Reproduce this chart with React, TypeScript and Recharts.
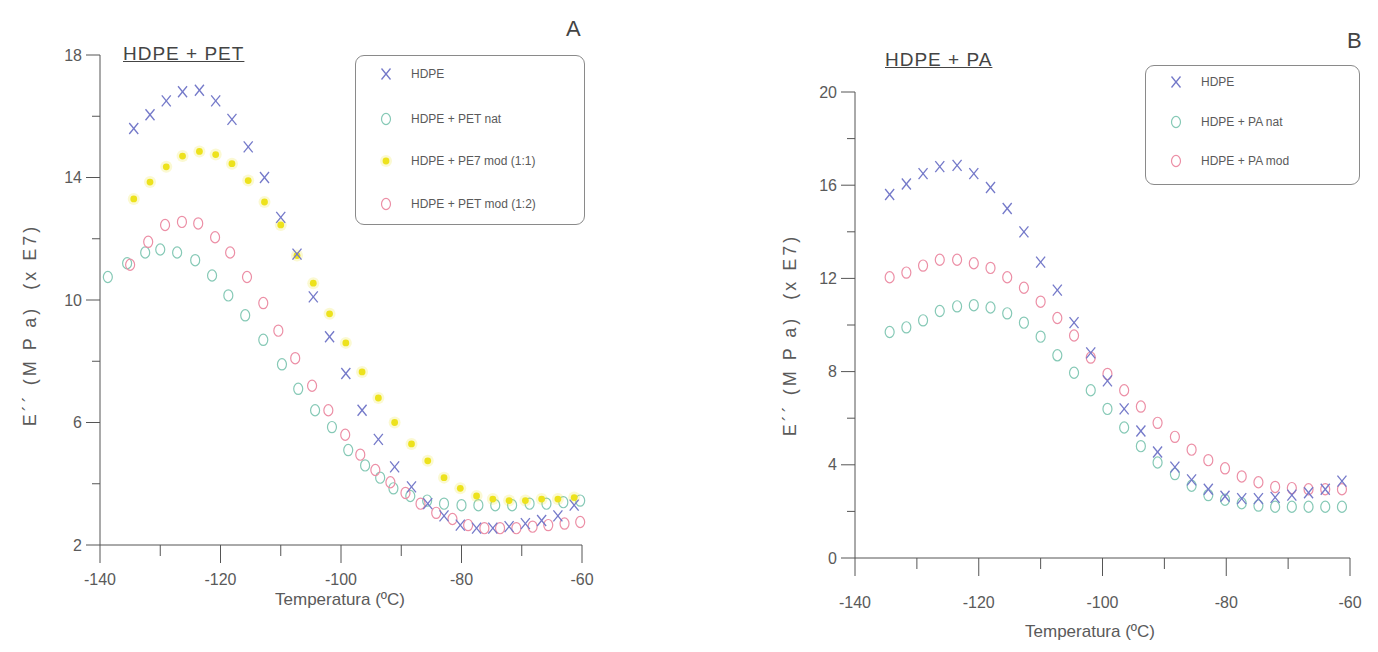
import { ScatterChart, Scatter, XAxis, YAxis, Legend } from "recharts"

// temperatures (ºC) shared by HDPE, PET mod (1:1) and both PA blends
const tempGrid = [
  -134.4, -131.7, -129.0, -126.3, -123.5, -120.8, -118.1, -115.4, -112.7, -110.0,
  -107.3, -104.6, -101.9, -99.2, -96.5, -93.8, -91.1, -88.3, -85.6, -82.9,
  -80.2, -77.5, -74.8, -72.1, -69.4, -66.7, -64.0, -61.3,
]
// E'' (x E7 MPa)
const hdpe = [
  15.6, 16.05, 16.5, 16.8, 16.85, 16.5, 15.9, 15.0, 14.0, 12.7,
  11.5, 10.1, 8.8, 7.6, 6.4, 5.45, 4.55, 3.9, 3.35, 2.95,
  2.65, 2.55, 2.55, 2.6, 2.7, 2.8, 2.95, 3.3,
]
const petMod11 = [
  13.3, 13.85, 14.35, 14.7, 14.85, 14.75, 14.45, 13.9, 13.2, 12.45,
  11.45, 10.55, 9.55, 8.6, 7.65, 6.8, 6.0, 5.3, 4.75, 4.2,
  3.85, 3.6, 3.5, 3.45, 3.45, 3.5, 3.5, 3.55,
]
const tempPetNat = [
  -138.7, -135.5, -132.5, -130.0, -127.2, -124.2, -121.4, -118.7, -115.9, -112.9,
  -109.8, -107.1, -104.3, -101.5, -98.8, -96.0, -93.5, -91.3, -88.5, -85.7,
  -82.9, -80.0, -77.2, -74.4, -71.6, -68.7, -65.9, -63.1, -60.3,
]
const petNat = [
  10.75, 11.2, 11.55, 11.65, 11.55, 11.3, 10.8, 10.15, 9.5, 8.7,
  7.9, 7.1, 6.4, 5.85, 5.1, 4.6, 4.2, 3.85, 3.6, 3.45,
  3.35, 3.3, 3.3, 3.3, 3.3, 3.35, 3.35, 3.4, 3.45,
]
const tempPetMod12 = [
  -135.0, -132.0, -129.2, -126.4, -123.7, -120.9, -118.4, -115.6, -112.9, -110.4,
  -107.6, -104.8, -102.1, -99.3, -96.8, -94.3, -91.8, -89.3, -86.8, -84.2,
  -81.5, -78.9, -76.2, -73.6, -70.9, -68.2, -65.6, -62.9, -60.3,
]
const petMod12 = [
  11.15, 11.9, 12.45, 12.55, 12.5, 12.05, 11.55, 10.75, 9.9, 9.0,
  8.1, 7.2, 6.4, 5.6, 4.95, 4.45, 4.05, 3.7, 3.35, 3.05,
  2.85, 2.65, 2.55, 2.55, 2.55, 2.6, 2.65, 2.7, 2.75,
]
const paNat = [
  9.7, 9.9, 10.2, 10.6, 10.8, 10.85, 10.75, 10.5, 10.1, 9.5,
  8.7, 7.95, 7.2, 6.4, 5.6, 4.8, 4.1, 3.6, 3.1, 2.7,
  2.5, 2.35, 2.25, 2.2, 2.2, 2.2, 2.2, 2.2,
]
const paMod = [
  12.05, 12.25, 12.55, 12.8, 12.8, 12.65, 12.45, 12.05, 11.6, 11.0,
  10.3, 9.55, 8.6, 7.9, 7.2, 6.5, 5.8, 5.2, 4.65, 4.2,
  3.85, 3.5, 3.25, 3.05, 3.0, 2.95, 2.95, 2.95,
]

const xTicks = [-140, -130, -120, -110, -100, -90, -80, -70, -60]
const xLabels = [-140, -120, -100, -80, -60]
const yTicksA = [2, 4, 6, 8, 10, 12, 14, 16, 18]
const yLabelsA = [2, 6, 10, 14, 18]
const yTicksB = [0, 2, 4, 6, 8, 10, 12, 14, 16, 18, 20]
const yLabelsB = [0, 4, 8, 12, 16, 20]

const C_HDPE = "#7479c9"
const C_NAT = "#86c9b6"
const C_MOD11 = "#ede21c"
const C_MOD = "#ec8fa6"
const AXIS = "#555"
const TEXT = "#5a5a5a"
const FONT = "'Liberation Sans', Arial, sans-serif"

const zip = (ts: number[], es: number[]) => ts.map((t, i) => ({ t, e: es[i] }))

function Mark({ kind, cx, cy, color }: any) {
  if (kind === "cross")
    return (
      <g stroke={color} strokeWidth={1.3}>
        <line x1={cx - 4.5} y1={cy - 5.5} x2={cx + 4.5} y2={cy + 5.5} />
        <line x1={cx + 4.5} y1={cy - 5.5} x2={cx - 4.5} y2={cy + 5.5} />
      </g>
    )
  if (kind === "dot")
    return (
      <g>
        <circle cx={cx} cy={cy} r={6} fill={color} opacity={0.2} />
        <circle cx={cx} cy={cy} r={3.4} fill={color} />
      </g>
    )
  return <ellipse cx={cx} cy={cy} rx={4.5} ry={5.6} fill="none" stroke={color} strokeWidth={1.2} />
}

const shapeOf = (kind: string, color: string) => (p: any) =>
  <Mark kind={kind} cx={p.cx} cy={p.cy} color={color} />

const makeXTick = (labelGap: number) => (props: any) => {
  const { x, y, payload } = props
  const major = xLabels.includes(payload.value)
  return (
    <g>
      <line x1={x} y1={y} x2={x} y2={y + (major ? 18 : 11)} stroke={AXIS} />
      {major && (
        <text x={x} y={y + labelGap} textAnchor="middle" fontSize={16} fill={TEXT} fontFamily={FONT}>
          {payload.value}
        </text>
      )}
    </g>
  )
}

const makeYTick = (labels: number[]) => (props: any) => {
  const { x, y, payload } = props
  const major = labels.includes(payload.value)
  return (
    <g>
      <line x1={x} y1={y} x2={x - (major ? 14 : 8)} y2={y} stroke={AXIS} />
      {major && (
        <text x={x - 18} y={y} dy="0.35em" textAnchor="end" fontSize={16} fill={TEXT} fontFamily={FONT}>
          {payload.value}
        </text>
      )}
    </g>
  )
}

type Entry = { name: string; kind: string; color: string; y: number }

const LegendBox = ({ entries }: { entries: Entry[] }) => (
  <div
    style={{
      position: "relative",
      width: "100%",
      height: "100%",
      boxSizing: "border-box",
      border: "1.5px solid #8a8a8a",
      borderRadius: 9,
      fontFamily: FONT,
      fontSize: 12,
      color: TEXT,
    }}
  >
    {entries.map((en) => (
      <div key={en.name} style={{ position: "absolute", left: 18, top: en.y - 9, height: 18, display: "flex", alignItems: "center" }}>
        <svg width={24} height={18}>
          <Mark kind={en.kind} cx={12} cy={9} color={en.color} />
        </svg>
        <span style={{ marginLeft: 13, whiteSpace: "nowrap" }}>{en.name}</span>
      </div>
    ))}
  </div>
)

const legendA: Entry[] = [
  { name: "HDPE", kind: "cross", color: C_HDPE, y: 18 },
  { name: "HDPE + PET nat", kind: "ring", color: C_NAT, y: 63 },
  { name: "HDPE + PE7 mod (1:1)", kind: "dot", color: C_MOD11, y: 105 },
  { name: "HDPE + PET mod (1:2)", kind: "ring", color: C_MOD, y: 148 },
]
const legendB: Entry[] = [
  { name: "HDPE", kind: "cross", color: C_HDPE, y: 16 },
  { name: "HDPE + PA nat", kind: "ring", color: C_NAT, y: 56 },
  { name: "HDPE + PA mod", kind: "ring", color: C_MOD, y: 95 },
]

const abs = (s: any): any => ({ position: "absolute", fontFamily: FONT, color: TEXT, whiteSpace: "nowrap", ...s })

export default function App() {
  return (
    <div style={{ position: "absolute", left: 0, top: 0, width: 1378, height: 652, background: "#fff", overflow: "hidden" }}>
      {/* PANEL A */}
      <div style={{ position: "absolute", left: 0, top: 0 }}>
        <ScatterChart width={620} height={640} margin={{ top: 55, right: 38, bottom: 55, left: 40 }}>
          <XAxis type="number" dataKey="t" domain={[-140, -60]} ticks={xTicks} interval={0}
            tick={makeXTick(40)} tickLine={false} tickSize={0} tickMargin={0} height={40} stroke={AXIS} />
          <YAxis type="number" dataKey="e" domain={[2, 18]} ticks={yTicksA} interval={0}
            tick={makeYTick(yLabelsA)} tickLine={false} tickSize={0} tickMargin={0} width={60} stroke={AXIS} />
          <Legend layout="vertical" align="center" verticalAlign="middle"
            wrapperStyle={{ left: 355, top: 55, width: 230, height: 170 }}
            content={() => <LegendBox entries={legendA} />} />
          <Scatter name="HDPE + PET nat" data={zip(tempPetNat, petNat)} shape={shapeOf("ring", C_NAT)} isAnimationActive={false} />
          <Scatter name="HDPE + PET mod (1:2)" data={zip(tempPetMod12, petMod12)} shape={shapeOf("ring", C_MOD)} isAnimationActive={false} />
          <Scatter name="HDPE + PE7 mod (1:1)" data={zip(tempGrid, petMod11)} shape={shapeOf("dot", C_MOD11)} isAnimationActive={false} />
          <Scatter name="HDPE" data={zip(tempGrid, hdpe)} shape={shapeOf("cross", C_HDPE)} isAnimationActive={false} />
        </ScatterChart>
      </div>

      {/* PANEL B */}
      <div style={{ position: "absolute", left: 740, top: 0 }}>
        <ScatterChart width={638} height={652} margin={{ top: 92, right: 28, bottom: 54, left: 55 }}>
          <XAxis type="number" dataKey="t" domain={[-140, -60]} ticks={xTicks} interval={0}
            tick={makeXTick(50)} tickLine={false} tickSize={0} tickMargin={0} height={40} stroke={AXIS} />
          <YAxis type="number" dataKey="e" domain={[0, 20]} ticks={yTicksB} interval={0}
            tick={makeYTick(yLabelsB)} tickLine={false} tickSize={0} tickMargin={0} width={60} stroke={AXIS} />
          <Legend layout="vertical" align="center" verticalAlign="middle"
            wrapperStyle={{ left: 405, top: 65, width: 215, height: 120 }}
            content={() => <LegendBox entries={legendB} />} />
          <Scatter name="HDPE + PA nat" data={zip(tempGrid, paNat)} shape={shapeOf("ring", C_NAT)} isAnimationActive={false} />
          <Scatter name="HDPE + PA mod" data={zip(tempGrid, paMod)} shape={shapeOf("ring", C_MOD)} isAnimationActive={false} />
          <Scatter name="HDPE" data={zip(tempGrid, hdpe)} shape={shapeOf("cross", C_HDPE)} isAnimationActive={false} />
        </ScatterChart>
      </div>

      {/* titles and axis labels */}
      <div style={abs({ left: 123, top: 43, fontSize: 19, letterSpacing: 1, color: "#444", textDecoration: "underline" })}>HDPE + PET</div>
      <div style={abs({ left: 566, top: 16, fontSize: 22, color: "#444" })}>A</div>
      <div style={abs({ left: 885, top: 49, fontSize: 19, letterSpacing: 1, color: "#444", textDecoration: "underline" })}>HDPE + PA</div>
      <div style={abs({ left: 1347, top: 28, fontSize: 22, color: "#444" })}>B</div>

      <div style={abs({ left: 30, top: 325, fontSize: 18, letterSpacing: 3, transform: "translate(-50%,-50%) rotate(-90deg)" })}>
        E´´ (M P a)&nbsp;&nbsp;(x E7)
      </div>
      <div style={abs({ left: 790, top: 335, fontSize: 18, letterSpacing: 3, transform: "translate(-50%,-50%) rotate(-90deg)" })}>
        E´´ (M P a)&nbsp;&nbsp;(x E7)
      </div>
      <div style={abs({ left: 340, top: 600, fontSize: 17, transform: "translate(-50%,-50%)" })}>Temperatura (ºC)</div>
      <div style={abs({ left: 1090, top: 632, fontSize: 17, transform: "translate(-50%,-50%)" })}>Temperatura (ºC)</div>
    </div>
  )
}
